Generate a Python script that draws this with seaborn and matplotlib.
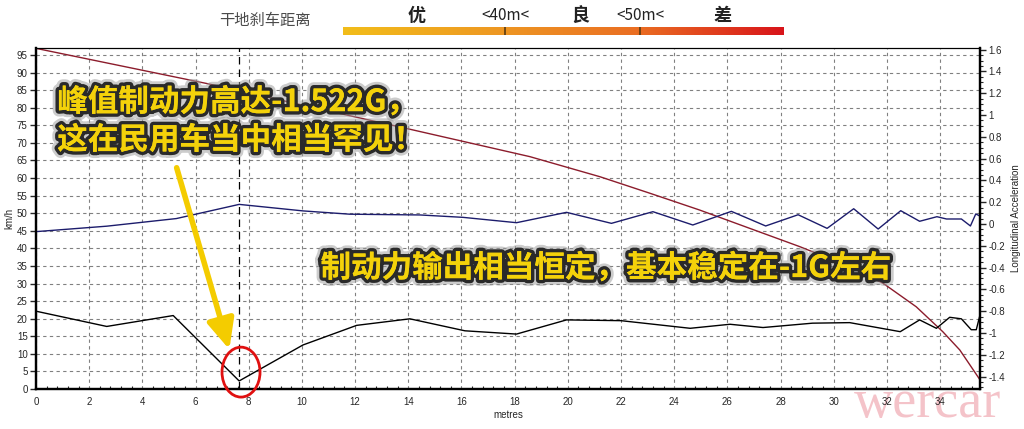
import numpy as np
import seaborn as sns
import matplotlib.pyplot as plt
import matplotlib.patheffects as pe
from matplotlib.colors import LinearSegmentedColormap
from matplotlib.patches import Ellipse
from matplotlib.ticker import MultipleLocator, FuncFormatter

# speed (km/h, left axis) against distance
dist_speed = [0, 6.42, 13.94, 18.57, 21.2, 23.08, 24.96, 26.84, 28.72, 30.6,
              31.85, 33.1, 34.1, 34.74, 35.17, 35.5]
speed_kmh = [96.9, 86.9, 74.1, 66.1, 60.4, 55.7, 50.9, 45.7, 40.5, 34.8,
             30.1, 23.4, 16.3, 11.1, 6.3, 2.6]

# second trace (right axis, g)
dist_blue = [0, 2.66, 5.28, 7.64, 10.05, 11.8, 14.44, 16.06, 18.07, 19.95,
             21.64, 23.2, 24.7, 26.15, 27.44, 28.66, 29.75, 30.75, 31.67,
             32.52, 33.23, 33.88, 34.24, 34.8, 35.14, 35.34, 35.5]
blue_g = [-0.07, -0.02, 0.05, 0.18, 0.12, 0.09, 0.083, 0.061, 0.012, 0.107,
          0.006, 0.113, -0.009, 0.116, -0.018, 0.085, -0.04, 0.14, -0.046,
          0.122, 0.025, 0.067, 0.046, 0.046, -0.018, 0.092, 0.073]

# longitudinal acceleration (right axis, g)
dist_accel = [0, 2.66, 5.16, 7.64, 10.04, 12.06, 14.06, 16.13, 18.07, 19.95,
              22.0, 24.6, 26.1, 27.34, 29.2, 30.6, 32.5, 33.23, 33.86, 34.36,
              34.8, 35.17, 35.36, 35.5]
accel_g = [-0.80, -0.94, -0.84, -1.44, -1.11, -0.93, -0.87, -0.98, -1.01,
           -0.88, -0.887, -0.957, -0.92, -0.95, -0.91, -0.905, -0.988, -0.88,
           -0.957, -0.856, -0.87, -0.97, -0.97, -0.835]

cursor_x = 7.64
x_ticks = list(range(0, 36, 2))
header_labels = ['优', '<40m<', '良', '<50m<', '差']

sns.set_style('white')
plt.rcParams['font.family'] = ['Liberation Sans', 'DejaVu Sans']

fig = plt.figure(figsize=(10.24, 4.29), dpi=100)
ax = fig.add_axes([36 / 1024, 1 - 389 / 429, 944 / 1024, 341 / 429])
ax2 = ax.twinx()
ax.set_zorder(1)
ax2.set_zorder(2)
ax.patch.set_visible(False)

sns.lineplot(x=dist_speed, y=speed_kmh, ax=ax, color='#8c1c2c', lw=1.0)
sns.lineplot(x=dist_blue, y=blue_g, ax=ax2, color='#1c1c6c', lw=1.0)
sns.lineplot(x=dist_accel, y=accel_g, ax=ax2, color='black', lw=1.0)
ax.axvline(cursor_x, color='black', lw=0.9, ls=(0, (6, 4)), zorder=1)

ax.set_xlim(0, 35.5)
ax.set_ylim(0, 97)
ax2.set_ylim(-1.514, 1.615)
ax.set_xticks(x_ticks)
ax.set_yticks(range(0, 96, 5))
ax.xaxis.set_minor_locator(MultipleLocator(0.4))
ax2.yaxis.set_major_locator(MultipleLocator(0.2))
ax2.yaxis.set_minor_locator(MultipleLocator(0.05))
ax2.yaxis.set_major_formatter(FuncFormatter(lambda v, p: f'{round(v, 2):g}'))

ax.grid(True, which='major', color='#808080', ls=(0, (3, 3)), lw=0.8)
ax.tick_params(axis='both', which='major', labelsize=7, length=4,
               width=1, direction='out', pad=2)
ax.tick_params(axis='x', which='minor', length=2, width=0.8,
               direction='in', bottom=True)
ax2.tick_params(axis='y', which='major', labelsize=7, length=4, width=1,
                direction='out', pad=2)
ax2.tick_params(axis='y', which='minor', length=2, width=0.8,
                direction='out', right=True)
for a in (ax, ax2):
    for side in ('left', 'bottom', 'right'):
        a.spines[side].set_linewidth(1.6)
        a.spines[side].set_color('black')
    a.spines['top'].set_linewidth(0.8)
    a.spines['top'].set_color('black')

ax.set_xlabel('metres', fontsize=7, labelpad=2)
ax.set_ylabel('km/h', fontsize=7, labelpad=2)
ax2.set_ylabel('Longitudinal Acceleration', fontsize=7, labelpad=4)

# yellow callouts
cjk = ['Noto Sans CJK SC', 'DejaVu Sans']
glow = [pe.withStroke(linewidth=9, foreground='#9a9a9a', alpha=0.5),
        pe.withStroke(linewidth=5, foreground='#2a2a2a'), pe.Normal()]
txt_kw = dict(family=cjk, fontsize=22, fontweight='bold', color='#f4d20a',
              transform=ax.transData, path_effects=glow, zorder=10,
              va='center')
ax2.text(0.8, 81.6, '峰值制动力高达-1.522G，', **txt_kw)
ax2.text(0.8, 70.8, '这在民用车当中相当罕见！', **txt_kw)
ax2.text(10.7, 34.4, '制动力输出相当恒定，基本稳定在-1G左右', **txt_kw)

ax2.annotate('', xy=(7.3, 10.5), xytext=(5.26, 63.7),
             xycoords=ax.transData, textcoords=ax.transData,
             arrowprops=dict(arrowstyle='-|>,head_length=1.2,head_width=0.55',
                             color='#f4cc00', lw=4, mutation_scale=15),
             zorder=9)
ax2.add_patch(Ellipse((7.71, 4.8), 1.43, 14.2, transform=ax.transData,
                      fill=False, ec='#e01010', lw=2, zorder=9, clip_on=False))

# header legend bar
fig.text(265 / 1024, 1 - 20 / 429, '干地刹车距离', family=cjk, fontsize=11,
         color='#4a4a4a', ha='center', va='center')
bar_ax = fig.add_axes([343 / 1024, 1 - 35 / 429, 441 / 1024, 8 / 429])
cmap = LinearSegmentedColormap.from_list(
    'grade', ['#f2bd1a', '#ee9a22', '#ea6e22', '#d8141a'])
bar_ax.imshow(np.linspace(0, 1, 256)[None, :], aspect='auto', cmap=cmap,
              extent=[0, 1, 0, 1])
for pos in (162 / 441, 297 / 441):
    bar_ax.axvline(pos, color='#5a3a10', lw=1.2)
bar_ax.axis('off')
label_x = [417, 505, 580, 640, 722]
for lx, lab in zip(label_x, header_labels):
    bold = not lab.startswith('<')
    fig.text(lx / 1024, 1 - 15 / 429, lab, family=cjk,
             fontsize=13 if bold else 11,
             fontweight='bold' if bold else 'normal',
             color='#222222', ha='center', va='center')

# faint watermark behind the axes
fig.text(854 / 1024, 1 - 417 / 429, 'wercar', family='Liberation Serif',
         fontsize=39, color='#f2b4bc', alpha=0.8, va='baseline', ha='left',
         zorder=0)

fig.savefig('out.png', dpi=100)
